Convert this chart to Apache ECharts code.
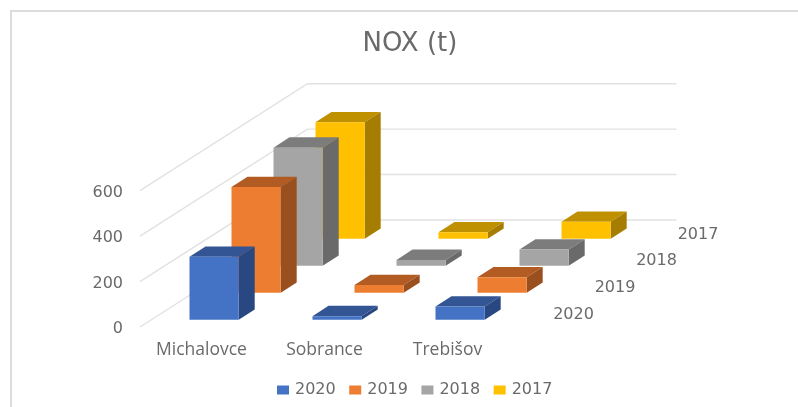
<!DOCTYPE html>
<html>
<head>
<meta charset="utf-8">
<style>html,body{margin:0;padding:0;background:#fff}#c{width:798px;height:407px}</style>
<script src="https://cdn.jsdelivr.net/npm/echarts@6/dist/echarts.min.js"></script>
</head>
<body>
<div id="c"></div>
<script>
const categories = ['Michalovce', 'Sobrance', 'Trebišov'];
const yTicks = [0, 200, 400, 600];
const years = ['2020', '2019', '2018', '2017'];
const values2020 = [277, 16, 58];
const values2019 = [466, 34, 68];
const values2018 = [520, 26, 72];
const values2017 = [513, 29, 75];

const LABEL_FONT = '"DejaVu Sans", sans-serif';
const TEXT = '#6a6a6a';
const GRID = '#e2e2e2';
const SLOT_DX = 42, SLOT_DY = 27;      // oblique shift per depth slot
const WALL_DX = 167.5, WALL_DY = 107;  // floor depth
const INSET_DX = 12.6, INSET_DY = 7.2; // front bar inset from the front edge
const BAR_RATIO = 0.4;
const BAR_DX = 16, BAR_DY = 10.3;      // bar depth

function barSeries(name, values, slot, front, top, side) {
  return {
    type: 'custom',
    name: name,
    coordinateSystem: 'cartesian2d',
    itemStyle: { color: front },
    clip: false,
    silent: true,
    data: values.map((v, i) => [i, v]),
    renderItem: function (params, api) {
      const c = api.coord([api.value(0), api.value(1)]);
      const b = api.coord([api.value(0), 0]);
      const w = api.size([1, 0])[0] * BAR_RATIO;
      const sx = INSET_DX + slot * SLOT_DX, sy = INSET_DY + slot * SLOT_DY;
      const x0 = c[0] - w / 2 + sx, x1 = x0 + w;
      const yT = c[1] - sy, yB = b[1] - sy;
      return {
        type: 'group',
        children: [
          { type: 'polygon', shape: { points: [[x0, yT], [x0 + BAR_DX, yT - BAR_DY], [x1 + BAR_DX, yT - BAR_DY], [x1, yT]] }, style: { fill: top } },
          { type: 'polygon', shape: { points: [[x1, yB], [x1 + BAR_DX, yB - BAR_DY], [x1 + BAR_DX, yT - BAR_DY], [x1, yT]] }, style: { fill: side } },
          { type: 'rect', shape: { x: x0, y: yT, width: w, height: yB - yT }, style: { fill: front } }
        ]
      };
    }
  };
}

const gridSeries = {
  type: 'custom',
  name: 'walls',
  coordinateSystem: 'cartesian2d',
  clip: false,
  silent: true,
  data: yTicks.map(v => [0, v]),
  renderItem: function (params, api) {
    const y = api.coord([0, api.value(1)])[1];
    const cs = params.coordSys;
    return {
      type: 'polyline',
      shape: { points: [[cs.x, y], [cs.x + WALL_DX, y - WALL_DY], [cs.x + WALL_DX + cs.width, y - WALL_DY]] },
      style: { fill: 'none', stroke: GRID, lineWidth: 1.4 }
    };
  }
};

const depthLabelSeries = {
  type: 'custom',
  name: 'depth',
  coordinateSystem: 'cartesian2d',
  clip: false,
  silent: true,
  data: years.map((y, i) => [0, 0, i]),
  renderItem: function (params, api) {
    const cs = params.coordSys;
    const i = api.value(2);
    const zero = api.coord([0, 0])[1];
    return {
      type: 'text',
      style: {
        x: cs.x + cs.width + 64.5 + i * 41.5,
        y: zero - 12.5 - i * 26.7,
        text: years[i],
        fill: TEXT,
        font: '16px ' + LABEL_FONT,
        align: 'center',
        verticalAlign: 'middle'
      }
    };
  }
};

const chart = echarts.init(document.getElementById('c'), null, { renderer: 'canvas' });
chart.setOption({
  animation: false,
  backgroundColor: '#ffffff',
  title: {
    text: 'NOX (t)',
    left: 405, top: 26, textAlign: 'center',
    textStyle: { fontFamily: LABEL_FONT, fontSize: 26, fontWeight: 'normal', color: TEXT }
  },
  legend: {
    data: years,
    left: 272, top: 377,
    icon: 'rect',
    itemWidth: 12, itemHeight: 9, itemGap: 13.5,
    selectedMode: false,
    textStyle: { fontFamily: LABEL_FONT, fontSize: 16, color: TEXT, padding: [0, 0, 0, 1] }
  },
  grid: { left: 140, top: 190.7, width: 369, height: 136.3 },
  xAxis: {
    type: 'category',
    data: categories,
    axisLine: { show: false },
    axisTick: { show: false },
    splitLine: { show: false },
    axisLabel: { color: TEXT, fontFamily: '"Open Sans", sans-serif', fontSize: 17.5, margin: 14, interval: 0 }
  },
  yAxis: {
    type: 'value',
    min: 0, max: 600, interval: 200,
    axisLine: { show: false },
    axisTick: { show: false },
    splitLine: { show: false },
    axisLabel: {
      color: TEXT, fontFamily: LABEL_FONT, fontSize: 16, margin: 17,
      formatter: '{n|{value}}',
      rich: { n: { color: TEXT, fontFamily: LABEL_FONT, fontSize: 16, padding: [4, 0, 0, 0] } }
    }
  },
  graphic: [
    { type: 'line', silent: true, shape: { x1: 11, y1: 11, x2: 798, y2: 11 }, style: { stroke: '#dcdcdc', lineWidth: 2 } },
    { type: 'line', silent: true, shape: { x1: 11, y1: 10, x2: 11, y2: 407 }, style: { stroke: '#dcdcdc', lineWidth: 2 } }
  ],
  series: [
    gridSeries,
    depthLabelSeries,
    barSeries('2017', values2017, 3, '#FFC000', '#BF9000', '#A67D00'),
    barSeries('2018', values2018, 2, '#A5A5A5', '#7C7C7C', '#6A6A6A'),
    barSeries('2019', values2019, 1, '#ED7D31', '#B25B22', '#9A4F1E'),
    barSeries('2020', values2020, 0, '#4472C4', '#335593', '#294780')
  ]
});
</script>
</body>
</html>
